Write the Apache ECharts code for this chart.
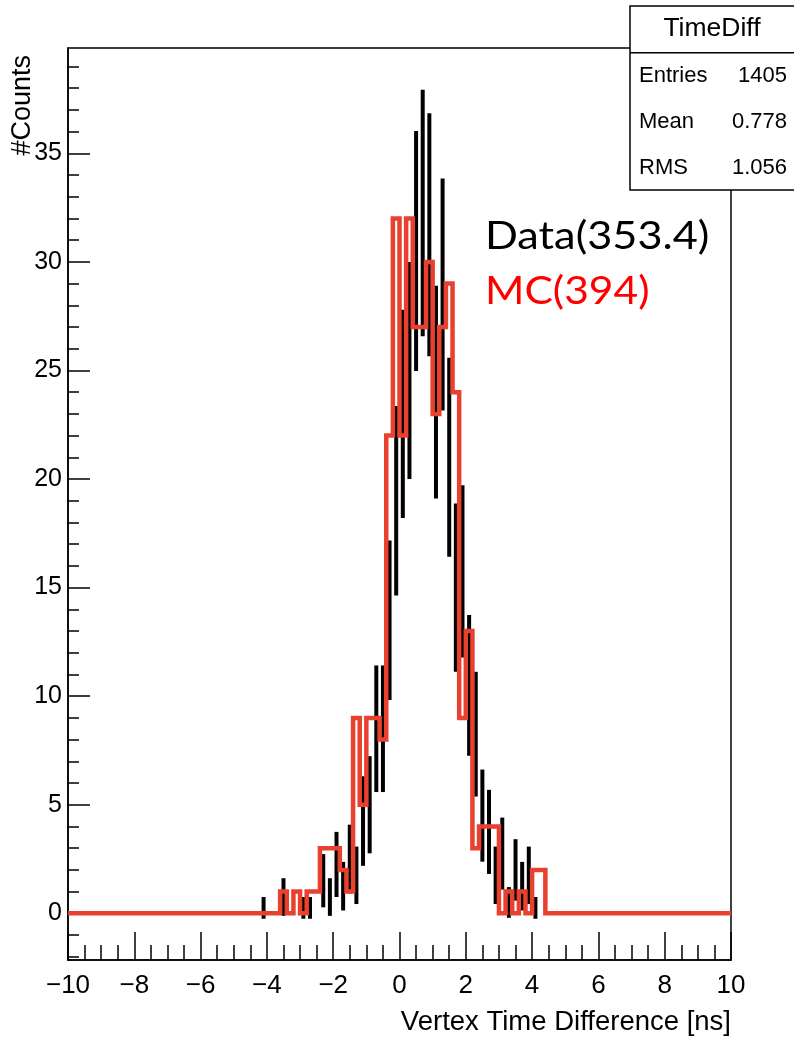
<!DOCTYPE html>
<html>
<head>
<meta charset="utf-8">
<script src="https://cdn.jsdelivr.net/npm/echarts@6/dist/echarts.min.js"></script>
<style>
  html, body { margin: 0; padding: 0; background: #fff; }
  #chart { width: 794px; height: 1039px; }
</style>
</head>
<body>
<div id="chart"></div>
<script>
// data histogram: bin centres (0.2 ns bins) and weighted contents, empty bins left out
const dataX = [-4.1, -3.5, -2.9, -2.7, -2.3, -2.1, -1.9, -1.7, -1.5, -1.3,
  -1.1, -0.9, -0.7, -0.5, -0.3, -0.1, 0.1, 0.3, 0.5, 0.7,
  0.9, 1.1, 1.3, 1.5, 1.7, 1.9, 2.1, 2.3, 2.5, 2.7,
  2.9, 3.1, 3.3, 3.5, 3.7, 3.9, 4.1];
const dataY = [0.25, 0.75, 0.25, 0.25, 1.5, 0.75, 2.25, 1.25, 2.5, 1.75,
  4.25, 5, 8.5, 8.5, 13.5, 19, 23, 25, 30.5, 32.25,
  31.25, 24, 28.5, 21, 15, 15.75, 10.5, 8.25, 4.5, 3.75,
  1.75, 2.75, 0.5, 2, 1.25, 1.75, 0.25];

// MC histogram: 0.2 ns bins starting at -3.6 ns, zero elsewhere
const mcStart = -3.6;
const mcWidth = 0.2;
const mcCounts = [1, 0, 1, 0, 1, 1, 3, 3, 3, 2,
  1, 9, 5, 9, 9, 8, 22, 32, 22, 32,
  27, 27, 30, 23, 27, 29, 24, 9, 13, 3,
  4, 4, 4, 0, 1, 0, 1, 0, 2, 2];

const yMajor = [0, 5, 10, 15, 20, 25, 30, 35];
const yMinor = [-2, -1, 0, 1, 2, 3, 4, 5, 6, 7, 8, 9, 10, 11, 12, 13, 14, 15, 16, 17, 18, 19,
  20, 21, 22, 23, 24, 25, 26, 27, 28, 29, 30, 31, 32, 33, 34, 35, 36, 37, 38, 39];

const statsTitle = 'TimeDiff';
const statsRows = [['Entries', '1405'], ['Mean', '0.778'], ['RMS', '1.056']];
const legendData = 'Data(353.4)';
const legendMC = 'MC(394)';

const ROOT_FONT = '"Liberation Sans", Arial, sans-serif';
const MC_RED = '#e8412f';

function minus(v) {
  return String(v).replace('-', '\u2212');
}

// outline points for the step line
function mcOutline() {
  let pts = [[-10, 0]];
  for (let i = 0; i < mcCounts.length; i++) {
    pts.push([+(mcStart + i * mcWidth).toFixed(2), mcCounts[i]]);
  }
  pts.push([+(mcStart + mcCounts.length * mcWidth).toFixed(2), 0]);
  pts.push([10, 0]);
  return pts;
}

// error bar = sqrt of the content, like ROOT does without Sumw2
function renderErrBar(params, api) {
  const x = api.value(0);
  const y = api.value(1);
  const e = Math.sqrt(y);
  const p1 = api.coord([x, y - e]);
  const p2 = api.coord([x, y + e]);
  return {
    type: 'line',
    shape: { x1: p1[0], y1: p1[1], x2: p2[0], y2: p2[1] },
    style: { stroke: '#000', lineWidth: 4 }
  };
}

function statsBox() {
  let els = [
    { type: 'rect', shape: { x: 630, y: 6, width: 200, height: 184 },
      style: { fill: '#fff', stroke: '#000', lineWidth: 1.5 }, z: 100 },
    { type: 'line', shape: { x1: 630, y1: 52.7, x2: 800, y2: 52.7 },
      style: { stroke: '#000', lineWidth: 1.5 }, z: 101 },
    { type: 'text', x: 712, y: 29, z: 102,
      style: { text: statsTitle, font: '26.5px ' + ROOT_FONT, fill: '#000',
        textAlign: 'center', textVerticalAlign: 'middle' } }
  ];
  statsRows.forEach((row, i) => {
    const y = 76 + i * 46;
    els.push({ type: 'text', x: 639, y: y, z: 102,
      style: { text: row[0], font: '22px ' + ROOT_FONT, fill: '#000', textVerticalAlign: 'middle' } });
    els.push({ type: 'text', x: 787, y: y, z: 102,
      style: { text: row[1], font: '22px ' + ROOT_FONT, fill: '#000',
        textAlign: 'right', textVerticalAlign: 'middle' } });
  });
  return els;
}

const chart = echarts.init(document.getElementById('chart'), null, { renderer: 'canvas' });

const option = {
  animation: false,
  backgroundColor: '#fff',
  grid: {
    left: 68, right: 63, top: 48, bottom: 79,
    show: true, borderColor: '#000', borderWidth: 1.5,
    outerBoundsMode: 'none'
  },
  xAxis: {
    type: 'value', min: -10, max: 10, interval: 2,
    axisLine: { onZero: false, lineStyle: { color: '#000', width: 1.5 } },
    axisTick: { inside: true, length: 28, lineStyle: { color: '#000', width: 1.5 } },
    minorTick: { show: true, splitNumber: 4, length: 15, lineStyle: { color: '#000', width: 1.5 } },
    axisLabel: { color: '#000', fontFamily: ROOT_FONT, fontSize: 26, margin: 13,
      formatter: minus },
    splitLine: { show: false }
  },
  yAxis: [
    {
      type: 'value', min: -2.15, max: 39.85, position: 'left',
      axisLine: { onZero: false, lineStyle: { color: '#000', width: 1.5 } },
      axisTick: { inside: true, length: 22, customValues: yMajor,
        lineStyle: { color: '#000', width: 1.5 } },
      axisLabel: { customValues: yMajor, color: '#000', fontFamily: ROOT_FONT,
        fontSize: 25, margin: 6 },
      splitLine: { show: false }
    },
    {
      type: 'value', min: -2.15, max: 39.85, position: 'left', offset: 0,
      axisLine: { show: false, onZero: false },
      axisTick: { inside: true, length: 11, customValues: yMinor,
        lineStyle: { color: '#000', width: 1.5 } },
      axisLabel: { show: false },
      splitLine: { show: false }
    }
  ],
  series: [
    {
      name: 'Data', type: 'custom', renderItem: renderErrBar,
      data: dataX.map((x, i) => [x, dataY[i]]), z: 2
    },
    {
      name: 'MC', type: 'line', step: 'end', symbol: 'none',
      data: mcOutline(),
      lineStyle: { color: MC_RED, width: 4.5, join: 'miter' }, z: 3
    }
  ],
  graphic: statsBox().concat([
    { type: 'text', x: 23, y: 55, rotation: Math.PI / 2, z: 102,
      style: { text: '#Counts', font: '27px ' + ROOT_FONT, fill: '#000',
        textAlign: 'right', textVerticalAlign: 'middle' } },
    { type: 'text', x: 731, y: 1022, z: 102,
      style: { text: 'Vertex Time Difference [ns]', font: '27.5px ' + ROOT_FONT, fill: '#000',
        textAlign: 'right', textVerticalAlign: 'middle' } },
    // labels pasted on the plot, wider face than Lato
    { type: 'text', x: 485, y: 236, scaleX: 1.11, z: 102,
      style: { text: legendData, font: '39px Lato, sans-serif', fill: '#000',
        textVerticalAlign: 'middle' } },
    { type: 'text', x: 485, y: 291, scaleX: 1.09, z: 102,
      style: { text: legendMC, font: '39px Lato, sans-serif', fill: '#ff0000',
        textVerticalAlign: 'middle' } }
  ])
};

chart.setOption(option);
</script>
</body>
</html>
